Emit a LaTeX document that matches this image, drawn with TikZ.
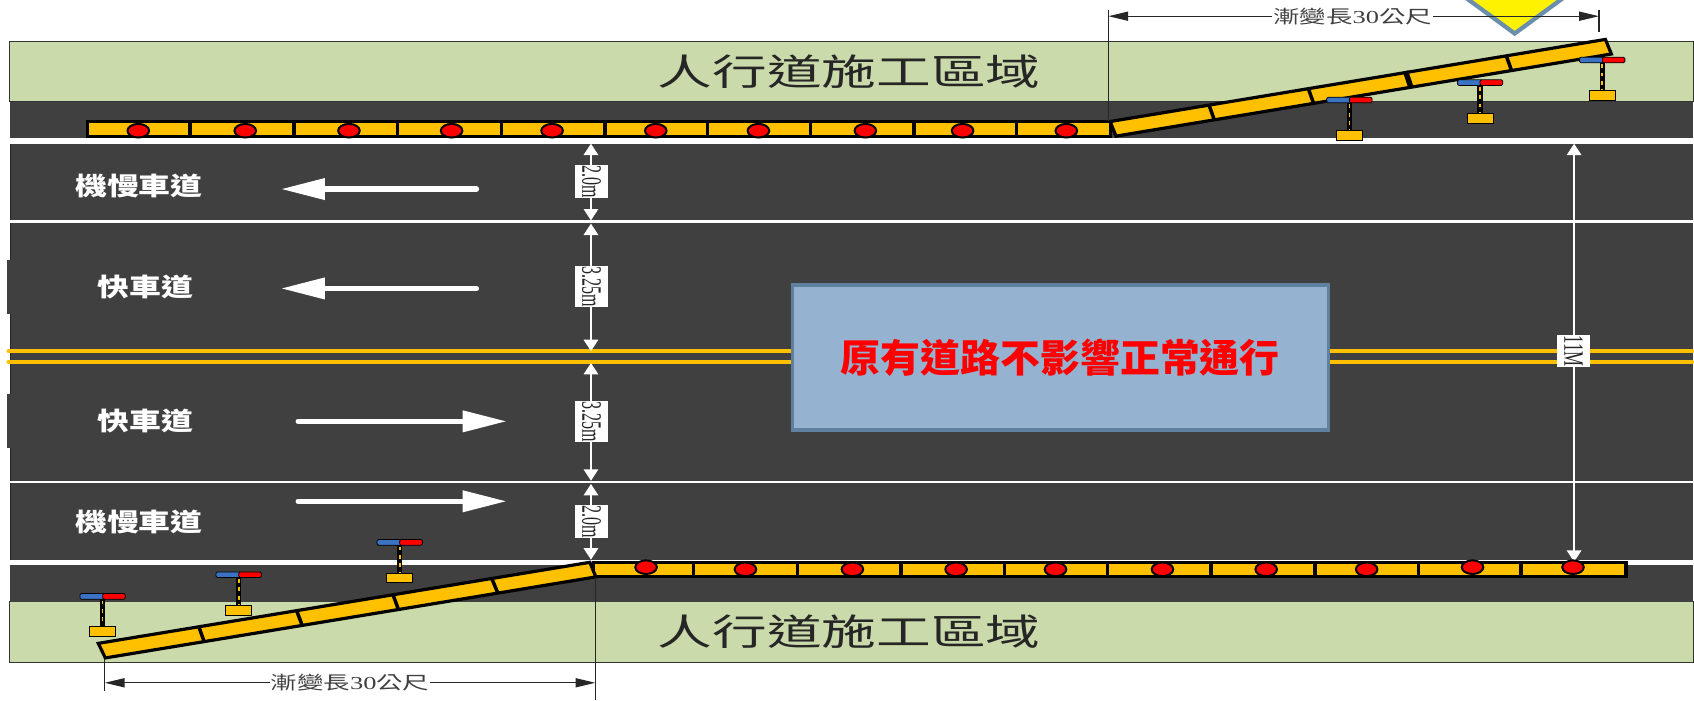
\documentclass[tikz,border=0pt]{standalone}
\usepackage{fontspec}
\setmainfont{Liberation Serif}
\newfontfamily\cjk{Noto Sans CJK TC}
\usetikzlibrary{arrows.meta}
\definecolor{road}{HTML}{404040}
\definecolor{walk}{HTML}{CBDAAB}
\definecolor{amber}{HTML}{FFC000}
\definecolor{panel}{HTML}{95B3D0}
\definecolor{panelb}{HTML}{60809F}
\definecolor{signb}{HTML}{6C8EAD}
\definecolor{lampb}{HTML}{3A72C4}
\newcommand{\fs}[1]{\fontsize{#1}{#1}\selectfont}
\newcommand{\flasher}[3]{%
  \draw[line width=7pt,black] (#1,#2) -- (#1,#3);
  \draw[line width=2.2pt,amber,dash pattern=on 5pt off 6pt] (#1,#2+4) -- (#1,#3-4);
  \draw[lampbar,fill=lampb] (#1-21,#2-2.6) rectangle (#1+2,#2+2.6);
  \draw[lampbar,fill=red] (#1,#2-2.6) rectangle (#1+21,#2+2.6);
  \draw[line width=1pt,fill=amber] (#1-12,#3-4.5) rectangle (#1+12,#3+4.5);
}
\newcommand{\lamp}[2]{\draw[line width=2.6pt,fill=red] (#1,#2) ellipse [x radius=10,y radius=6.3];}
\tikzset{
  bar/.style={line width=4.2pt,fill=amber,draw=black,line join=miter},
  divider/.style={line width=4.6pt,draw=black},
  lampbar/.style={line width=1pt,draw=black,rounded corners=1.8pt},
  laneArrow/.style={line width=7pt,white,line cap=round,-{Triangle[length=58pt,width=27pt]}},
  dimwhite/.style={line width=2.2pt,white,{Triangle[length=15pt,width=19pt]}-{Triangle[length=15pt,width=19pt]}},
  dimblack/.style={line width=1.5pt,black!85,{Triangle[length=26pt,width=12pt]}-{Triangle[length=26pt,width=12pt]}},
  ext/.style={line width=1.6pt,black!85},
  dimbox/.style={fill=white,inner sep=0pt,minimum height=1.55cm,rotate=-90,text=black!85,font=\fs{37}},
  dimtext/.style={fill=white,inner sep=1.5pt,text=black!75,font=\fs{24}},
  lanetext/.style={text=white,inner sep=0pt,font=\cjk\bfseries\fs{33}},
  zonetext/.style={text=black!85,inner sep=0pt,font=\cjk\fs{48}},
}
\begin{document}
\begin{tikzpicture}[x=0.05cm,y=-0.05cm]
\useasboundingbox (0,0) rectangle (1568,648);
\clip (0,0) rectangle (1568,648);
\fill[white] (0,0) rectangle (1568,648);
% ground
\draw[line width=1pt,draw=black!80,fill=walk] (9,38) rectangle (1567,94);
\draw[line width=1pt,draw=black!80,fill=walk] (9,557) rectangle (1567,613);
\fill[road] (9,94) rectangle (1567,557);
\fill[black!85] (9,133) rectangle (10,518);
\fill[road] (6.5,241) rectangle (10,291);
\fill[road] (6.5,365) rectangle (10,415);
% lane lines
\fill[white] (0,128) rectangle (1568,133);
\fill[white] (9,204) rectangle (1568,206.5);
\fill[white] (9,445) rectangle (1568,447.5);
\fill[white] (0,518) rectangle (1568,523);
\draw[line width=5.6pt,amber,line cap=round] (8,325) -- (1566,325);
\draw[line width=5.6pt,amber,line cap=round] (8,335) -- (1566,335);
% zones
\node[zonetext] (zoneN) at (786,66) {\scalebox{1.5}[1]{人行道施工區域}};
\node[zonetext] (zoneS) at (786,585) {\scalebox{1.5}[1]{人行道施工區域}};
% lane labels
\node[lanetext] (laneA) at (128.5,172) {\scalebox{1.27}[1]{機慢車道}};
\node[lanetext] (laneB) at (134.5,266) {\scalebox{1.27}[1]{快車道}};
\node[lanetext] (laneC) at (134.5,390) {\scalebox{1.27}[1]{快車道}};
\node[lanetext] (laneD) at (128.5,483) {\scalebox{1.27}[1]{機慢車道}};
% lane arrows
\draw[laneArrow] (441,175) -- (260,175);
\draw[laneArrow] (441,267) -- (260,267);
\draw[laneArrow] (276,390) -- (469,390);
\draw[laneArrow] (276,464) -- (469,464);
% panel
\node[draw=panelb,line width=4.6pt,fill=panel,minimum width=24.8cm,minimum height=6.7cm,inner sep=0pt,text=red,font=\cjk\bfseries\fs{51}] (panel) at (981.5,331) {\scalebox{1.03}[1]{原有道路不影響正常通行}};
% width dimensions
\coordinate (d0) at (547,133);
\coordinate (d1) at (547,204);
\coordinate (d2) at (547,207);
\coordinate (d3) at (547,325);
\coordinate (d4) at (547,336);
\coordinate (d5) at (547,445);
\coordinate (d6) at (547,448);
\coordinate (d7) at (547,518);
\draw[dimwhite] (d0) -- (d1);
\draw[dimwhite] (d2) -- (d3);
\draw[dimwhite] (d4) -- (d5);
\draw[dimwhite] (d6) -- (d7);
\node[dimbox,minimum width=1.5cm] (w1) at (547.5,168) {\scalebox{0.57}[1]{2.0m}};
\node[dimbox,minimum width=1.9cm] (w2) at (547.5,265) {\scalebox{0.57}[1]{3.25m}};
\node[dimbox,minimum width=1.9cm] (w3) at (547.5,390) {\scalebox{0.57}[1]{3.25m}};
\node[dimbox,minimum width=1.5cm] (w4) at (547.5,482.5) {\scalebox{0.57}[1]{2.0m}};
\coordinate (r0) at (1457,133);
\coordinate (r1) at (1457,520);
\draw[dimwhite] (r0) -- (r1);
\node[dimbox,minimum width=1.45cm] (w5) at (1456.5,325) {\scalebox{0.6}[1]{11M}};
% north barrier
\draw[bar] (81,112.5) rectangle (1028,126);
\foreach \x in {176,272,368,464,560,655,750,846,941}
  \draw[divider] (\x,112.5) -- (\x,126);
\foreach \x in {128,227,323,418,511,607,702,801,891,987}
  \lamp{\x}{121};
\draw[bar] (1027.5,112.5) -- (1486,36.5) -- (1491.5,50) -- (1033,126) -- cycle;
\foreach \a/\b/\c/\d in {1119/97/1124/111,1211/82/1216/96,1394/51/1399/65}
  \draw[divider] (\a,\b) -- (\c,\d);
\draw[line width=7pt] (1301,66) -- (1306,81);
% south barrier
\draw[bar] (549,520.5) rectangle (1505,533.5);
\foreach \x in {642,738,834,930,1025,1121,1217,1313,1408}
  \draw[divider] (\x,520.5) -- (\x,533.5);
\foreach \x/\y in {598/525,690/527,789/527,885/527,977/527,1076/527,1172/527,1265/527,1363/525,1456/525}
  \lamp{\x}{\y};
\draw[bar] (91,595.5) -- (546,520.5) -- (551.5,534) -- (97.5,609) -- cycle;
\foreach \a/\b/\c/\d in {184/580/189/594,274.5/565/280/579.6,364/551/368.7/564,455/535/460.7/548.7}
  \draw[divider] (\a,\b) -- (\c,\d);
% flashers
\flasher{1249}{92.6}{125.6}
\flasher{1370}{76.5}{109.6}
\flasher{1483}{55.5}{88}
\flasher{95}{552}{584.7}
\flasher{221}{532}{565}
\flasher{370}{502}{535}
% sign
\draw[line width=5.6pt,draw=signb,fill=yellow,line join=miter] (1402,31) -- (1320,-29) -- (1484,-29) -- cycle;
% taper dimensions
\coordinate (tA) at (1026,9);
\coordinate (tAe) at (1026,112);
\coordinate (tB) at (1480,9);
\coordinate (tBe) at (1480,30);
\coordinate (tL) at (1026,15);
\coordinate (tR) at (1480,15);
\draw[ext] (tA) -- (tAe);
\draw[ext] (tB) -- (tBe);
\draw[dimblack] (tL) -- (tR);
\node[dimtext] (tN) at (1252,15) {\scalebox{1.45}[1]{\cjk 漸變長\rmfamily 30\cjk 公尺}};
\coordinate (bA) at (97,610);
\coordinate (bAe) at (97,640);
\coordinate (bB) at (551,534);
\coordinate (bBe) at (551,648);
\coordinate (bL) at (97,632);
\coordinate (bR) at (551,632);
\draw[ext] (bA) -- (bAe);
\draw[ext] (bB) -- (bBe);
\draw[dimblack] (bL) -- (bR);
\node[dimtext] (tS) at (324,632) {\scalebox{1.45}[1]{\cjk 漸變長\rmfamily 30\cjk 公尺}};
\end{tikzpicture}
\end{document}
